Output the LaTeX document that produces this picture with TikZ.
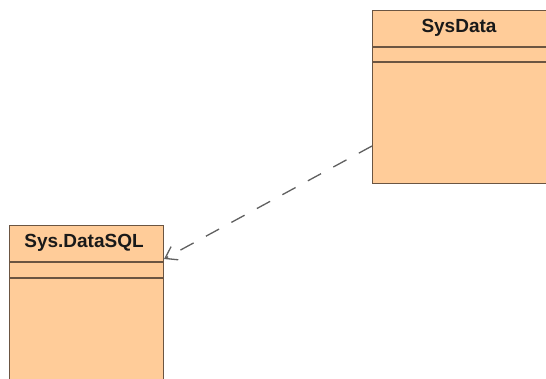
\documentclass[tikz,border=0pt]{standalone}
\usepackage{fontspec}
\setmainfont{Liberation Sans}
\usetikzlibrary{arrows.meta}
\definecolor{boxfill}{HTML}{FFCC99}
\definecolor{boxline}{HTML}{6B5542}
\definecolor{dep}{HTML}{606060}
\begin{document}
\begin{tikzpicture}[x=1pt,y=-1pt,
  classbox/.style={draw=boxline,fill=boxfill,line width=1.4pt,minimum width=#1,anchor=north west,inner sep=0pt},
  title/.style={font=\fontsize{19}{21}\selectfont\bfseries,text=black!90,anchor=base,inner sep=0pt},
  sep/.style={draw=boxline,line width=1.4pt},
  depline/.style={draw=dep,line width=1.3pt,dash pattern=on 15pt off 14pt,-{Straight Barb[length=11pt,width=15pt,line width=1.3pt]}}]
\clip (0,0) rectangle (546,379);
\fill[white] (0,0) rectangle (546,379);
% SysData
\node[classbox=184pt,minimum height=173pt] (sysdata) at (372,10) {};
\draw[sep] (372,47) -- (556,47);
\draw[sep] (372,62) -- (556,62);
\node[title] (sysdatat) at (459,33) {SysData};
% Sys.DataSQL
\node[classbox=154pt,minimum height=170pt] (datasql) at (9,225) {};
\draw[sep] (9,262) -- (163,262);
\draw[sep] (9,278) -- (163,278);
\node[title] (datasqlt) at (84,248) {Sys.DataSQL};
% dependency
\coordinate (src) at (372,146);
\coordinate (dst) at (164,259);
\draw[depline] (src) -- (dst);
\end{tikzpicture}
\end{document}
